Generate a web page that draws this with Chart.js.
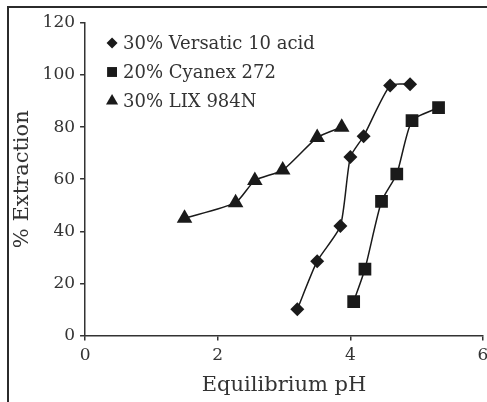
<!DOCTYPE html>
<html>
<head>
<meta charset="utf-8">
<script src="https://cdn.jsdelivr.net/npm/chart.js@4.4.1/dist/chart.umd.min.js"></script>
<style>
html, body { margin: 0; padding: 0; background: #fff; }
#wrap { width: 487px; height: 402px; }
</style>
</head>
<body>
<div id="wrap"><canvas id="chart" width="487" height="402"></canvas></div>
<script>
// Values (equilibrium pH vs % extraction)
const versaticPH  = [3.2, 3.5, 3.85, 4.0, 4.2, 4.6, 4.9];
const versaticExt = [10, 28.5, 42, 68.5, 76.5, 96, 96.5];
const cyanexPH    = [4.05, 4.22, 4.47, 4.7, 4.93, 5.33];
const cyanexExt   = [13, 25.5, 51.5, 62, 82.5, 87.5];
const lixPH       = [1.5, 2.27, 2.56, 2.98, 3.5, 3.87];
const lixExt      = [45, 51, 59.5, 63.5, 76, 80];
const seriesLabels = ["30% Versatic 10 acid", "20% Cyanex 272", "30% LIX 984N"];
const xTicks = [0, 2, 4, 6];
const yTicks = [0, 20, 40, 60, 80, 100, 120];

const FONT = "'DejaVu Serif', serif";
const INK = '#1a1a1a';
const TEXT = '#333';

const toPoints = (xs, ys) => xs.map((x, i) => ({x: x, y: ys[i]}));

// frame lines on top and left like the scanned figure
const framePlugin = {
    id: 'frame',
    afterDraw(chart) {
        const ctx = chart.ctx;
        ctx.save();
        ctx.strokeStyle = '#2b2b2b';
        ctx.lineWidth = 2;
        ctx.beginPath();
        ctx.moveTo(8, 402);
        ctx.lineTo(8, 7);
        ctx.lineTo(487, 7);
        ctx.stroke();
        ctx.restore();
    }
};

// legend drawn inside the plot, top-left
const insideLegend = {
    id: 'insideLegend',
    afterDraw(chart) {
        const ctx = chart.ctx;
        const area = chart.chartArea;
        const x0 = area.left + 27;
        const y0 = area.top + 20;
        ctx.save();
        ctx.font = '18px ' + FONT;
        ctx.textBaseline = 'middle';
        ctx.textAlign = 'left';
        chart.data.datasets.forEach((ds, i) => {
            const y = y0 + i * 29;
            ctx.fillStyle = INK;
            ctx.strokeStyle = INK;
            Chart.helpers.drawPoint(ctx, {pointStyle: ds.pointStyle, radius: ds.legendRadius, rotation: 0, borderWidth: 0}, x0, y);
            ctx.fillStyle = TEXT;
            ctx.fillText(ds.label, x0 + 11, y + 1);
        });
        ctx.restore();
    }
};

const axisCommon = (title, ticksArr) => ({
    type: 'linear',
    afterBuildTicks: axis => { axis.ticks = ticksArr.map(v => ({value: v})); },
    grid: {drawOnChartArea: false, drawTicks: true, tickLength: 5, color: '#333', lineWidth: 1.5},
    border: {display: true, color: '#333', width: 1.5},
    ticks: {color: TEXT, font: {family: FONT, size: 17}, padding: 5},
    title: {display: true, text: title, color: TEXT, font: {family: FONT, size: 21}, padding: {top: 2, bottom: 2}}
});

const xAxis = axisCommon('Equilibrium pH', xTicks);
xAxis.min = 0; xAxis.max = 6;
// let the last tick label hang near the edge, as in the figure
xAxis.afterFit = axis => { axis.paddingRight = 0; };
const yAxis = axisCommon('% Extraction', yTicks);
yAxis.min = 0; yAxis.max = 120;

new Chart(document.getElementById('chart').getContext('2d'), {
    type: 'scatter',
    data: {
        datasets: [
            {label: seriesLabels[0], data: toPoints(versaticPH, versaticExt), pointStyle: 'rectRot', pointRadius: 7, legendRadius: 5.5},
            {label: seriesLabels[1], data: toPoints(cyanexPH, cyanexExt), pointStyle: 'rect', pointRadius: 9, legendRadius: 7},
            {label: seriesLabels[2], data: toPoints(lixPH, lixExt), pointStyle: 'triangle', pointRadius: 9, legendRadius: 7}
        ].map(ds => Object.assign(ds, {
            showLine: true,
            tension: 0.2,
            borderColor: INK,
            borderWidth: 1.5,
            backgroundColor: INK,
            pointBackgroundColor: INK,
            pointBorderColor: INK,
            pointBorderWidth: 0,
            pointHoverRadius: ds.pointRadius
        }))
    },
    options: {
        responsive: false,
        animation: false,
        // no extra room for marker radius, so the axis runs almost to the edge
        layout: {autoPadding: false, padding: {top: 23, left: 8.4, right: 4, bottom: 2}},
        plugins: {legend: {display: false}, tooltip: {enabled: false}},
        scales: {x: xAxis, y: yAxis}
    },
    plugins: [framePlugin, insideLegend]
});
</script>
</body>
</html>
